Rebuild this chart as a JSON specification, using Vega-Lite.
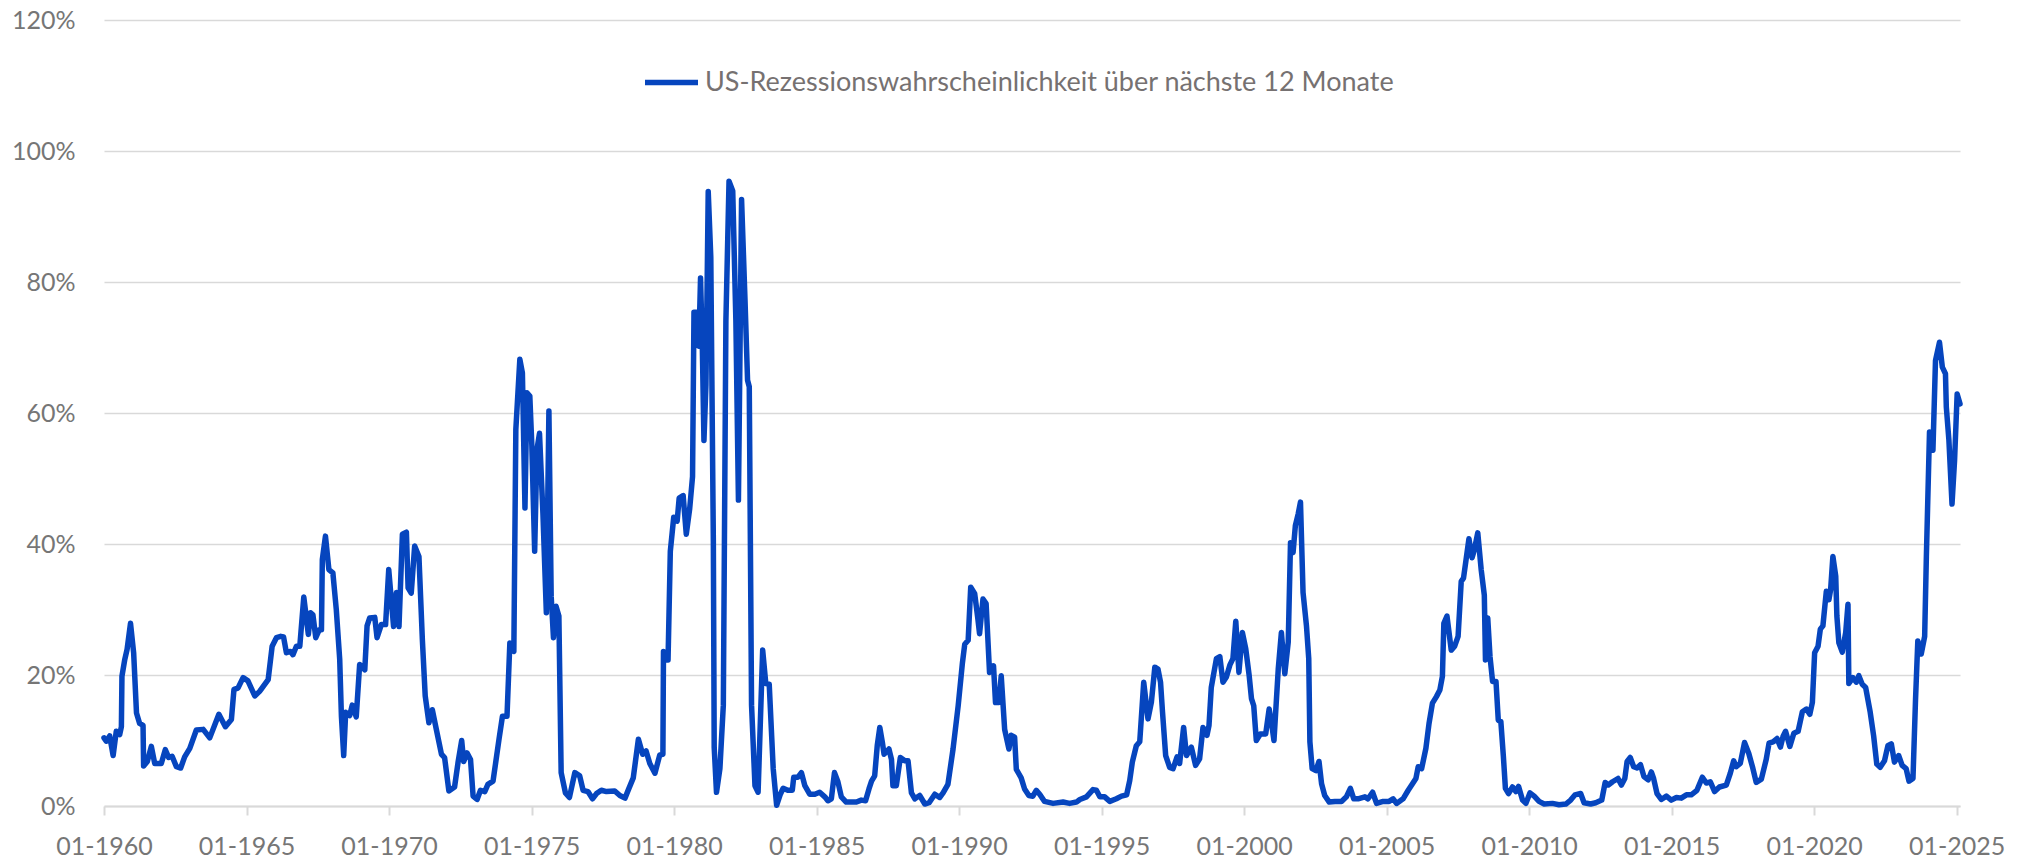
{
"$schema": "https://vega.github.io/schema/vega-lite/v6.json",
"width": 1856, "height": 786,
"autosize": {"type": "none"},
"padding": {"left": 104, "right": 69, "top": 20, "bottom": 54},
"background": "white",
"config": {"view": {"stroke": null}, "font": "Lato"},
"data": {"values": [
{"t":1960.00,"p":10.4},{"t":1960.08,"p":9.9},{"t":1960.20,"p":10.7},{"t":1960.32,"p":7.7},{"t":1960.43,"p":11.4},{"t":1960.55,"p":10.9},{"t":1960.61,"p":12.1},{"t":1960.63,"p":19.8},{"t":1960.73,"p":22.4},{"t":1960.81,"p":23.9},{"t":1960.93,"p":27.9},{"t":1961.04,"p":23.4},{"t":1961.14,"p":14.2},{"t":1961.25,"p":12.6},{"t":1961.37,"p":12.3},{"t":1961.39,"p":6.1},{"t":1961.52,"p":6.8},{"t":1961.66,"p":9.1},{"t":1961.78,"p":6.5},{"t":1962.01,"p":6.5},{"t":1962.15,"p":8.6},{"t":1962.27,"p":7.4},{"t":1962.39,"p":7.6},{"t":1962.54,"p":6.0},{"t":1962.69,"p":5.8},{"t":1962.83,"p":7.5},{"t":1963.01,"p":8.8},{"t":1963.24,"p":11.6},{"t":1963.48,"p":11.7},{"t":1963.71,"p":10.4},{"t":1964.03,"p":14.0},{"t":1964.26,"p":12.1},{"t":1964.47,"p":13.2},{"t":1964.56,"p":17.8},{"t":1964.70,"p":18.0},{"t":1964.88,"p":19.6},{"t":1965.05,"p":19.1},{"t":1965.29,"p":16.8},{"t":1965.46,"p":17.5},{"t":1965.76,"p":19.3},{"t":1965.90,"p":24.4},{"t":1966.05,"p":25.7},
{"t":1966.20,"p":25.9},{"t":1966.30,"p":25.8},{"t":1966.40,"p":23.4},{"t":1966.54,"p":23.6},{"t":1966.63,"p":23.1},{"t":1966.75,"p":24.4},{"t":1966.87,"p":24.4},{"t":1967.01,"p":31.9},{"t":1967.17,"p":26.2},{"t":1967.25,"p":29.5},{"t":1967.33,"p":29.2},{"t":1967.43,"p":25.7},{"t":1967.55,"p":26.9},{"t":1967.63,"p":26.9},{"t":1967.66,"p":37.6},{"t":1967.77,"p":41.2},{"t":1967.89,"p":36.1},{"t":1968.03,"p":35.6},{"t":1968.15,"p":30.0},{"t":1968.27,"p":22.4},{"t":1968.33,"p":13.7},{"t":1968.41,"p":7.7},{"t":1968.48,"p":14.3},{"t":1968.62,"p":13.8},{"t":1968.71,"p":15.4},{"t":1968.85,"p":13.6},{"t":1968.97,"p":21.6},{"t":1969.15,"p":20.8},{"t":1969.23,"p":27.5},{"t":1969.32,"p":28.7},{"t":1969.50,"p":28.8},{"t":1969.58,"p":25.7},{"t":1969.73,"p":27.7},{"t":1969.88,"p":27.7},{"t":1969.99,"p":36.1},{"t":1970.16,"p":27.4},{"t":1970.26,"p":32.6},{"t":1970.35,"p":27.4},{"t":1970.47,"p":41.5},{"t":1970.61,"p":41.8},{"t":1970.67,"p":33.3},{"t":1970.78,"p":32.5},{"t":1970.90,"p":39.7},{"t":1971.05,"p":38.1},{"t":1971.17,"p":25.4},{"t":1971.27,"p":16.8},{"t":1971.40,"p":12.7},{"t":1971.52,"p":14.7},{"t":1971.66,"p":11.7},{"t":1971.84,"p":7.9},{"t":1971.95,"p":7.4},{"t":1972.10,"p":2.3},{"t":1972.30,"p":2.9},{"t":1972.42,"p":6.6},{"t":1972.55,"p":10.0},{"t":1972.62,"p":6.8},{"t":1972.74,"p":8.1},{"t":1972.86,"p":7.1},{"t":1972.95,"p":1.5},
{"t":1973.09,"p":1.0},{"t":1973.21,"p":2.4},{"t":1973.36,"p":2.2},{"t":1973.47,"p":3.3},{"t":1973.65,"p":3.8},{"t":1973.86,"p":10.2},{"t":1973.98,"p":13.7},{"t":1974.14,"p":13.7},{"t":1974.24,"p":24.9},{"t":1974.38,"p":23.6},{"t":1974.45,"p":57.5},{"t":1974.59,"p":68.2},{"t":1974.68,"p":66.1},{"t":1974.77,"p":45.5},{"t":1974.84,"p":63.1},{"t":1974.94,"p":62.6},{"t":1975.01,"p":55.2},{"t":1975.11,"p":38.9},{"t":1975.19,"p":54.4},{"t":1975.28,"p":56.9},{"t":1975.40,"p":44.7},{"t":1975.52,"p":29.5},{"t":1975.61,"p":60.3},{"t":1975.69,"p":32.0},{"t":1975.77,"p":25.7},{"t":1975.86,"p":30.5},{"t":1975.96,"p":29.0},{"t":1976.04,"p":5.1},{"t":1976.19,"p":2.0},{"t":1976.33,"p":1.3},{"t":1976.52,"p":5.1},{"t":1976.69,"p":4.6},{"t":1976.81,"p":2.4},{"t":1976.98,"p":2.2},{"t":1977.14,"p":1.1},{"t":1977.28,"p":1.9},{"t":1977.45,"p":2.4},{"t":1977.63,"p":2.2},{"t":1977.92,"p":2.3},{"t":1978.10,"p":1.6},{"t":1978.28,"p":1.2},{"t":1978.40,"p":2.5},{"t":1978.57,"p":4.3},{"t":1978.75,"p":10.2},{"t":1978.90,"p":7.9},{"t":1979.02,"p":8.4},{"t":1979.15,"p":6.5},{"t":1979.33,"p":5.0},{"t":1979.50,"p":7.8},{"t":1979.61,"p":7.9},
{"t":1979.63,"p":23.6},{"t":1979.73,"p":22.3},{"t":1979.79,"p":22.3},{"t":1979.87,"p":38.9},{"t":1979.99,"p":44.1},{"t":1980.11,"p":43.5},{"t":1980.18,"p":47.0},{"t":1980.32,"p":47.4},{"t":1980.43,"p":41.5},{"t":1980.55,"p":45.4},{"t":1980.65,"p":50.3},{"t":1980.70,"p":75.4},{"t":1980.79,"p":75.4},{"t":1980.87,"p":70.2},{"t":1980.93,"p":80.6},{"t":1980.99,"p":70.8},{"t":1981.05,"p":55.8},{"t":1981.12,"p":64.3},{"t":1981.20,"p":93.8},{"t":1981.29,"p":83.8},{"t":1981.38,"p":40.2},{"t":1981.41,"p":8.9},{"t":1981.49,"p":2.1},{"t":1981.61,"p":5.7},{"t":1981.73,"p":15.4},{"t":1981.82,"p":74.1},{"t":1981.93,"p":95.4},{"t":1982.06,"p":93.9},{"t":1982.17,"p":74.1},{"t":1982.26,"p":46.7},{"t":1982.37,"p":92.6},{"t":1982.49,"p":77.3},{"t":1982.58,"p":65.0},{"t":1982.64,"p":64.0},{"t":1982.72,"p":15.4},{"t":1982.84,"p":3.1},{"t":1982.95,"p":2.1},{"t":1983.11,"p":23.8},{"t":1983.22,"p":18.7},{"t":1983.34,"p":18.6},{"t":1983.48,"p":5.7},{"t":1983.60,"p":0.1},{"t":1983.73,"p":1.8},{"t":1983.83,"p":2.7},{"t":1983.99,"p":2.4},{"t":1984.15,"p":2.4},{"t":1984.20,"p":4.4},{"t":1984.35,"p":4.4},{"t":1984.47,"p":5.1},{"t":1984.59,"p":3.1},{"t":1984.76,"p":1.8},{"t":1984.94,"p":1.8},{"t":1985.11,"p":2.1},{"t":1985.29,"p":1.4},{"t":1985.40,"p":0.8},{"t":1985.52,"p":1.1},{"t":1985.63,"p":5.1},{"t":1985.75,"p":3.7},{"t":1985.87,"p":1.4},{"t":1986.04,"p":0.6},
{"t":1986.40,"p":0.6},{"t":1986.57,"p":0.9},{"t":1986.72,"p":0.8},{"t":1986.84,"p":2.6},{"t":1986.93,"p":3.8},{"t":1987.04,"p":4.6},{"t":1987.13,"p":9.2},{"t":1987.22,"p":12.0},{"t":1987.31,"p":9.7},{"t":1987.37,"p":7.9},{"t":1987.54,"p":8.7},{"t":1987.63,"p":7.1},{"t":1987.68,"p":3.1},{"t":1987.80,"p":3.1},{"t":1987.94,"p":7.4},{"t":1988.10,"p":6.9},{"t":1988.21,"p":6.9},{"t":1988.33,"p":2.0},{"t":1988.45,"p":1.1},{"t":1988.62,"p":1.6},{"t":1988.80,"p":0.3},{"t":1988.95,"p":0.5},{"t":1989.15,"p":1.8},{"t":1989.32,"p":1.3},{"t":1989.44,"p":2.0},{"t":1989.61,"p":3.3},{"t":1989.79,"p":8.7},{"t":1989.97,"p":15.3},{"t":1990.12,"p":21.9},{"t":1990.20,"p":24.7},{"t":1990.32,"p":25.3},{"t":1990.41,"p":33.4},{"t":1990.55,"p":32.4},{"t":1990.66,"p":28.6},{"t":1990.72,"p":26.3},{"t":1990.84,"p":31.6},{"t":1990.95,"p":30.9},{"t":1991.07,"p":20.4},{"t":1991.21,"p":21.4},{"t":1991.28,"p":15.8},{"t":1991.40,"p":15.8},{"t":1991.48,"p":19.9},{"t":1991.60,"p":11.7},{"t":1991.75,"p":8.7},{"t":1991.83,"p":10.8},{"t":1991.95,"p":10.5},{"t":1992.01,"p":5.6},{"t":1992.18,"p":4.3},{"t":1992.30,"p":2.6},{"t":1992.45,"p":1.6},{"t":1992.59,"p":1.5},{"t":1992.71,"p":2.4},{"t":1992.83,"p":1.8},{"t":1993.00,"p":0.7},
{"t":1993.30,"p":0.4},{"t":1993.65,"p":0.6},{"t":1993.88,"p":0.4},{"t":1994.12,"p":0.6},{"t":1994.24,"p":1.0},{"t":1994.47,"p":1.4},{"t":1994.70,"p":2.5},{"t":1994.82,"p":2.4},{"t":1994.94,"p":1.4},{"t":1995.11,"p":1.4},{"t":1995.29,"p":0.7},{"t":1995.52,"p":1.1},{"t":1995.70,"p":1.5},{"t":1995.88,"p":1.7},{"t":1995.99,"p":3.9},{"t":1996.08,"p":6.7},{"t":1996.22,"p":9.2},{"t":1996.34,"p":9.8},{"t":1996.48,"p":18.9},{"t":1996.63,"p":13.3},{"t":1996.75,"p":15.9},{"t":1996.87,"p":21.2},{"t":1996.98,"p":20.9},{"t":1997.07,"p":18.9},{"t":1997.14,"p":14.3},{"t":1997.25,"p":7.7},{"t":1997.39,"p":5.9},{"t":1997.51,"p":5.7},{"t":1997.65,"p":7.5},{"t":1997.74,"p":6.5},{"t":1997.88,"p":12.0},{"t":1997.98,"p":7.7},{"t":1998.15,"p":9.0},{"t":1998.30,"p":6.2},{"t":1998.44,"p":7.2},{"t":1998.56,"p":12.0},{"t":1998.70,"p":10.8},{"t":1998.77,"p":12.3},{"t":1998.85,"p":18.1},{"t":1999.03,"p":22.5},{"t":1999.15,"p":22.8},{"t":1999.26,"p":18.9},{"t":1999.38,"p":19.7},{"t":1999.50,"p":21.5},{"t":1999.61,"p":22.5},{"t":1999.71,"p":28.2},{"t":1999.82,"p":20.4},{"t":1999.94,"p":26.5},
{"t":2000.06,"p":24.0},{"t":2000.18,"p":19.9},{"t":2000.26,"p":16.4},{"t":2000.34,"p":15.3},{"t":2000.43,"p":10.0},{"t":2000.57,"p":11.0},{"t":2000.76,"p":11.0},{"t":2000.88,"p":14.8},{"t":2000.96,"p":12.8},{"t":2001.05,"p":10.0},{"t":2001.20,"p":20.9},{"t":2001.31,"p":26.5},{"t":2001.43,"p":20.2},{"t":2001.55,"p":25.0},{"t":2001.63,"p":40.2},{"t":2001.72,"p":38.7},{"t":2001.80,"p":42.8},{"t":2001.90,"p":44.6},{"t":2001.98,"p":46.4},{"t":2002.07,"p":32.6},{"t":2002.19,"p":27.5},{"t":2002.27,"p":22.5},{"t":2002.31,"p":9.8},{"t":2002.39,"p":5.7},{"t":2002.52,"p":5.4},{"t":2002.63,"p":6.8},{"t":2002.72,"p":3.4},{"t":2002.83,"p":1.6},{"t":2002.99,"p":0.6},{"t":2003.19,"p":0.7},{"t":2003.42,"p":0.7},{"t":2003.59,"p":1.4},{"t":2003.73,"p":2.7},{"t":2003.85,"p":1.1},{"t":2004.00,"p":1.1},{"t":2004.24,"p":1.4},{"t":2004.35,"p":1.1},{"t":2004.51,"p":2.1},{"t":2004.65,"p":0.4},{"t":2004.88,"p":0.7},{"t":2005.09,"p":0.7},{"t":2005.23,"p":1.1},{"t":2005.35,"p":0.4},{"t":2005.58,"p":1.1},{"t":2005.76,"p":2.4},{"t":2005.91,"p":3.4},{"t":2006.03,"p":4.2},{"t":2006.11,"p":6.0},{"t":2006.23,"p":5.7},{"t":2006.38,"p":8.8},{"t":2006.49,"p":12.6},{"t":2006.61,"p":15.7},{"t":2006.75,"p":16.7},{"t":2006.87,"p":17.7},{"t":2006.96,"p":19.8},
{"t":2007.01,"p":27.9},{"t":2007.12,"p":29.0},{"t":2007.27,"p":23.8},{"t":2007.39,"p":24.4},{"t":2007.51,"p":25.9},{"t":2007.62,"p":34.3},{"t":2007.70,"p":34.8},{"t":2007.79,"p":37.6},{"t":2007.89,"p":40.8},{"t":2008.00,"p":37.9},{"t":2008.08,"p":39.1},{"t":2008.20,"p":41.7},{"t":2008.32,"p":36.1},{"t":2008.43,"p":32.2},{"t":2008.47,"p":22.3},{"t":2008.55,"p":28.7},{"t":2008.63,"p":22.8},{"t":2008.72,"p":19.0},{"t":2008.84,"p":19.0},{"t":2008.92,"p":13.1},{"t":2009.01,"p":12.9},{"t":2009.10,"p":7.5},{"t":2009.17,"p":2.7},{"t":2009.28,"p":1.9},{"t":2009.42,"p":2.9},{"t":2009.54,"p":2.2},{"t":2009.63,"p":3.0},{"t":2009.77,"p":0.9},{"t":2009.89,"p":0.4},{"t":2010.03,"p":2.0},{"t":2010.18,"p":1.5},{"t":2010.35,"p":0.7},{"t":2010.53,"p":0.3},{"t":2010.82,"p":0.4},{"t":2011.05,"p":0.2},{"t":2011.29,"p":0.3},{"t":2011.46,"p":0.9},{"t":2011.61,"p":1.7},{"t":2011.81,"p":1.9},{"t":2011.93,"p":0.5},{"t":2012.16,"p":0.3},{"t":2012.34,"p":0.5},{"t":2012.55,"p":0.9},{"t":2012.67,"p":3.6},{"t":2012.78,"p":3.2},{"t":2012.93,"p":3.7},
{"t":2013.12,"p":4.2},{"t":2013.24,"p":3.2},{"t":2013.36,"p":4.2},{"t":2013.44,"p":6.8},{"t":2013.55,"p":7.4},{"t":2013.67,"p":6.0},{"t":2013.79,"p":5.8},{"t":2013.91,"p":6.3},{"t":2014.03,"p":4.5},{"t":2014.18,"p":4.0},{"t":2014.29,"p":5.2},{"t":2014.37,"p":4.2},{"t":2014.49,"p":1.9},{"t":2014.64,"p":1.0},{"t":2014.82,"p":1.5},{"t":2014.99,"p":0.9},{"t":2015.17,"p":1.3},{"t":2015.34,"p":1.2},{"t":2015.52,"p":1.7},{"t":2015.69,"p":1.7},{"t":2015.89,"p":2.4},{"t":2016.08,"p":4.4},{"t":2016.22,"p":3.5},{"t":2016.36,"p":3.7},{"t":2016.51,"p":2.2},{"t":2016.68,"p":2.9},{"t":2016.92,"p":3.2},{"t":2017.06,"p":5.0},{"t":2017.18,"p":6.9},{"t":2017.27,"p":6.0},{"t":2017.41,"p":6.5},{"t":2017.56,"p":9.7},{"t":2017.71,"p":8.0},{"t":2017.85,"p":5.8},{"t":2017.97,"p":3.6},{"t":2018.15,"p":4.1},{"t":2018.32,"p":7.1},{"t":2018.42,"p":9.6},{"t":2018.56,"p":9.8},{"t":2018.70,"p":10.3},{"t":2018.82,"p":9.0},{"t":2018.91,"p":10.6},{"t":2019.00,"p":11.4},{"t":2019.15,"p":9.1},{"t":2019.29,"p":11.1},{"t":2019.44,"p":11.4},{"t":2019.59,"p":14.4},{"t":2019.73,"p":14.8},{"t":2019.85,"p":14.0},{"t":2019.94,"p":15.8},
{"t":2020.02,"p":23.4},{"t":2020.14,"p":24.4},{"t":2020.22,"p":27.0},{"t":2020.31,"p":27.5},{"t":2020.43,"p":32.8},{"t":2020.52,"p":31.5},{"t":2020.58,"p":33.0},{"t":2020.66,"p":38.1},{"t":2020.76,"p":35.1},{"t":2020.80,"p":29.0},{"t":2020.87,"p":24.9},{"t":2020.99,"p":23.5},{"t":2021.11,"p":26.5},{"t":2021.19,"p":30.8},{"t":2021.22,"p":18.7},{"t":2021.36,"p":19.6},{"t":2021.48,"p":18.9},{"t":2021.57,"p":19.9},{"t":2021.69,"p":18.6},{"t":2021.81,"p":18.1},{"t":2021.97,"p":14.3},{"t":2022.09,"p":10.7},{"t":2022.20,"p":6.4},{"t":2022.32,"p":5.9},{"t":2022.47,"p":6.9},{"t":2022.59,"p":9.2},{"t":2022.71,"p":9.5},{"t":2022.82,"p":6.7},{"t":2022.97,"p":7.7},{"t":2023.09,"p":6.2},{"t":2023.23,"p":5.7},{"t":2023.33,"p":3.8},{"t":2023.47,"p":4.2},{"t":2023.56,"p":16.3},{"t":2023.64,"p":25.2},{"t":2023.76,"p":23.2},{"t":2023.88,"p":25.9},{"t":2023.94,"p":38.1},{"t":2024.05,"p":57.1},{"t":2024.17,"p":54.3},{"t":2024.26,"p":68.0},{"t":2024.40,"p":70.8},{"t":2024.50,"p":67.0},{"t":2024.61,"p":66.0},{"t":2024.64,"p":60.9},{"t":2024.73,"p":55.9},{"t":2024.84,"p":46.1},{"t":2024.93,"p":52.8},{"t":2025.02,"p":62.9},{"t":2025.12,"p":61.4}
]},
"mark": {"type": "line", "strokeWidth": 5.5, "strokeJoin": "round", "strokeCap": "round"},
"encoding": {
  "x": {"field": "t", "type": "quantitative",
    "scale": {"domain": [1960, 2025.12], "nice": false, "zero": false},
    "axis": {"title": null, "grid": false, "values": [1960,1965,1970,1975,1980,1985,1990,1995,2000,2005,2010,2015,2020,2025],
      "labelExpr": "'01-' + datum.value", "domainColor": "#d9d9d9", "domainWidth": 2, "tickColor": "#d9d9d9", "tickWidth": 2, "tickSize": 9,
      "labelFontSize": 25, "labelColor": "#767676", "labelPadding": 19, "labelFlush": false, "labelOverlap": false}},
  "y": {"field": "p", "type": "quantitative",
    "scale": {"domain": [0, 120], "nice": false},
    "axis": {"title": null, "values": [0,20,40,60,80,100,120], "labelExpr": "datum.value + '%'", "domain": false, "ticks": false,
      "gridColor": "#d9d9d9", "gridWidth": 1.5, "labelPadding": 29, "labelFontSize": 25, "labelColor": "#767676"}},
  "color": {"datum": "US-Rezessionswahrscheinlichkeit über nächste 12 Monate", "type": "nominal",
    "scale": {"range": ["#0645BE"]},
    "legend": {"orient": "none", "legendX": 538, "legendY": 33, "title": null, "symbolType": "stroke", "symbolSize": 2809,
      "symbolStrokeWidth": 5.5, "labelFontSize": 27, "labelColor": "#767171", "labelOffset": 4, "padding": 0, "labelLimit": 1200}}
}
}
